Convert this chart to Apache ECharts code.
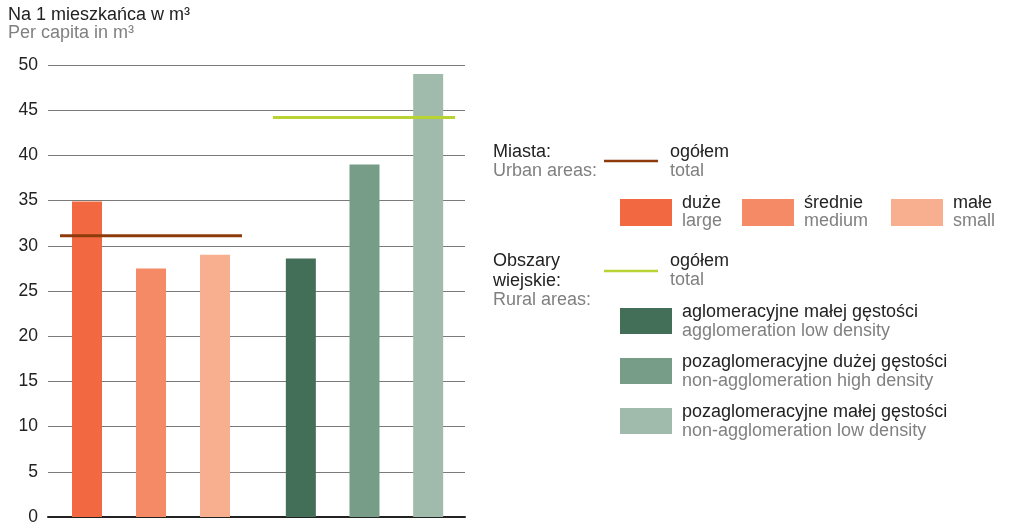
<!DOCTYPE html>
<html>
<head>
<meta charset="utf-8">
<script src="https://cdn.jsdelivr.net/npm/echarts@6/dist/echarts.min.js"></script>
<style>
  html, body { margin: 0; padding: 0; background: #fff; }
  #chart { width: 1013px; height: 526px; }
</style>
</head>
<body>
<div id="chart"></div>
<script>
// dane z wykresu: m3 na mieszkańca
const urbanCats = ['duże', 'średnie', 'małe'];
const urbanCatsEn = ['large', 'medium', 'small'];
const urbanValues = [34.9, 27.5, 29.0];
const urbanTotal = 31.1;

const ruralCats = ['aglomeracyjne małej gęstości', 'pozaglomeracyjne dużej gęstości', 'pozaglomeracyjne małej gęstości'];
const ruralCatsEn = ['agglomeration low density', 'non-agglomeration high density', 'non-agglomeration low density'];
const ruralValues = [28.6, 39.0, 49.0];
const ruralTotal = 44.2;

const urbanColors = ['#F26841', '#F48A66', '#F7AF90'];
const ruralColors = ['#436E58', '#779C87', '#A0BBAC'];
const urbanLineColor = '#8E3B0C';
const ruralLineColor = '#B9D432';

const FONT = 'Liberation Sans, Arial, sans-serif';
const FS = 18;
const TOP = 65, BOTTOM = 9;   // grid top / bottom offsets

/**
 * tekst w legendzie (graphic)
 */
function txt(text, x, y, color) {
    return {
        type: 'text',
        style: {
            text: text, x: x, y: y,
            fill: color || '#222',
            font: FS + 'px ' + FONT,
            verticalAlign: 'middle'
        }
    };
}

function rect(x, y, w, h, color) {
    return { type: 'rect', shape: { x: x, y: y, width: w, height: h }, style: { fill: color } };
}

function line(x1, x2, y, color) {
    return { type: 'line', shape: { x1: x1, y1: y, x2: x2, y2: y }, style: { stroke: color, lineWidth: 2.5 } };
}

let graphic = [
    txt('Na 1 mieszkańca w m³', 8, 15),
    txt('Per capita in m³', 8, 33, '#808080'),

    txt('Miasta:', 493, 152),
    txt('Urban areas:', 493, 171, '#808080'),
    line(604, 658, 161, urbanLineColor),
    txt('ogółem', 670, 152),
    txt('total', 670, 171, '#808080'),

    txt('Obszary', 493, 261),
    txt('wiejskie:', 493, 281),
    txt('Rural areas:', 493, 300, '#808080'),
    line(604, 658, 271, ruralLineColor),
    txt('ogółem', 670, 261),
    txt('total', 670, 280, '#808080')
];

// miasta - w jednym wierszu
let uX = [620, 742, 891];
urbanCats.forEach(function (c, i) {
    graphic.push(rect(uX[i], 199, 52, 27, urbanColors[i]));
    graphic.push(txt(c, uX[i] + 62, 203));
    graphic.push(txt(urbanCatsEn[i], uX[i] + 62, 221, '#808080'));
});
// obszary wiejskie - w kolumnie
let rY = [308, 358, 408];
ruralCats.forEach(function (c, i) {
    graphic.push(rect(620, rY[i], 52, 26, ruralColors[i]));
    graphic.push(txt(c, 682, rY[i] + 4));
    graphic.push(txt(ruralCatsEn[i], 682, rY[i] + 23, '#808080'));
});

const chart = echarts.init(document.getElementById('chart'));

const yHidden = function (idx) {
    return { type: 'value', gridIndex: idx, min: 0, max: 50, interval: 5, show: false };
};

let option = {
    backgroundColor: '#fff',
    animation: false,
    textStyle: { fontFamily: FONT },
    graphic: graphic,
    grid: [
        { left: 48, right: 548, top: TOP, bottom: BOTTOM },   // tło: osie i linie siatki
        { left: 55, width: 192, top: TOP, bottom: BOTTOM },   // słupki miasta
        { left: 269, width: 191, top: TOP, bottom: BOTTOM },  // słupki wieś
        { left: 60, width: 182, top: TOP, bottom: BOTTOM },   // linia ogółem miasta
        { left: 273, width: 182, top: TOP, bottom: BOTTOM }   // linia ogółem wieś
    ],
    xAxis: [
        {
            type: 'category', gridIndex: 0, data: [''],
            axisLine: { show: true, lineStyle: { color: '#222', width: 2 } },
            axisTick: { show: false }, axisLabel: { show: false }
        },
        { type: 'category', gridIndex: 1, data: urbanCats, show: false },
        { type: 'category', gridIndex: 2, data: ruralCats, show: false },
        { type: 'category', gridIndex: 3, data: ['a', 'b'], boundaryGap: false, show: false },
        { type: 'category', gridIndex: 4, data: ['a', 'b'], boundaryGap: false, show: false }
    ],
    yAxis: [
        {
            type: 'value', gridIndex: 0, min: 0, max: 50, interval: 5,
            axisLine: { show: false }, axisTick: { show: false },
            axisLabel: { color: '#222', fontSize: 17.5, margin: 10, fontFamily: FONT },
            splitLine: { lineStyle: { color: '#7a7a7a', width: 1.2 } }
        },
        yHidden(1), yHidden(2), yHidden(3), yHidden(4)
    ],
    series: [
        {
            type: 'bar', xAxisIndex: 1, yAxisIndex: 1, barWidth: 30,
            data: urbanValues.map(function (v, i) { return { value: v, itemStyle: { color: urbanColors[i] } }; })
        },
        {
            type: 'bar', xAxisIndex: 2, yAxisIndex: 2, barWidth: 30,
            data: ruralValues.map(function (v, i) { return { value: v, itemStyle: { color: ruralColors[i] } }; })
        },
        {
            type: 'line', xAxisIndex: 3, yAxisIndex: 3, symbol: 'none',
            lineStyle: { color: urbanLineColor, width: 3 },
            data: [urbanTotal, urbanTotal]
        },
        {
            type: 'line', xAxisIndex: 4, yAxisIndex: 4, symbol: 'none',
            lineStyle: { color: ruralLineColor, width: 3 },
            data: [ruralTotal, ruralTotal]
        }
    ]
};

chart.setOption(option);
</script>
</body>
</html>
